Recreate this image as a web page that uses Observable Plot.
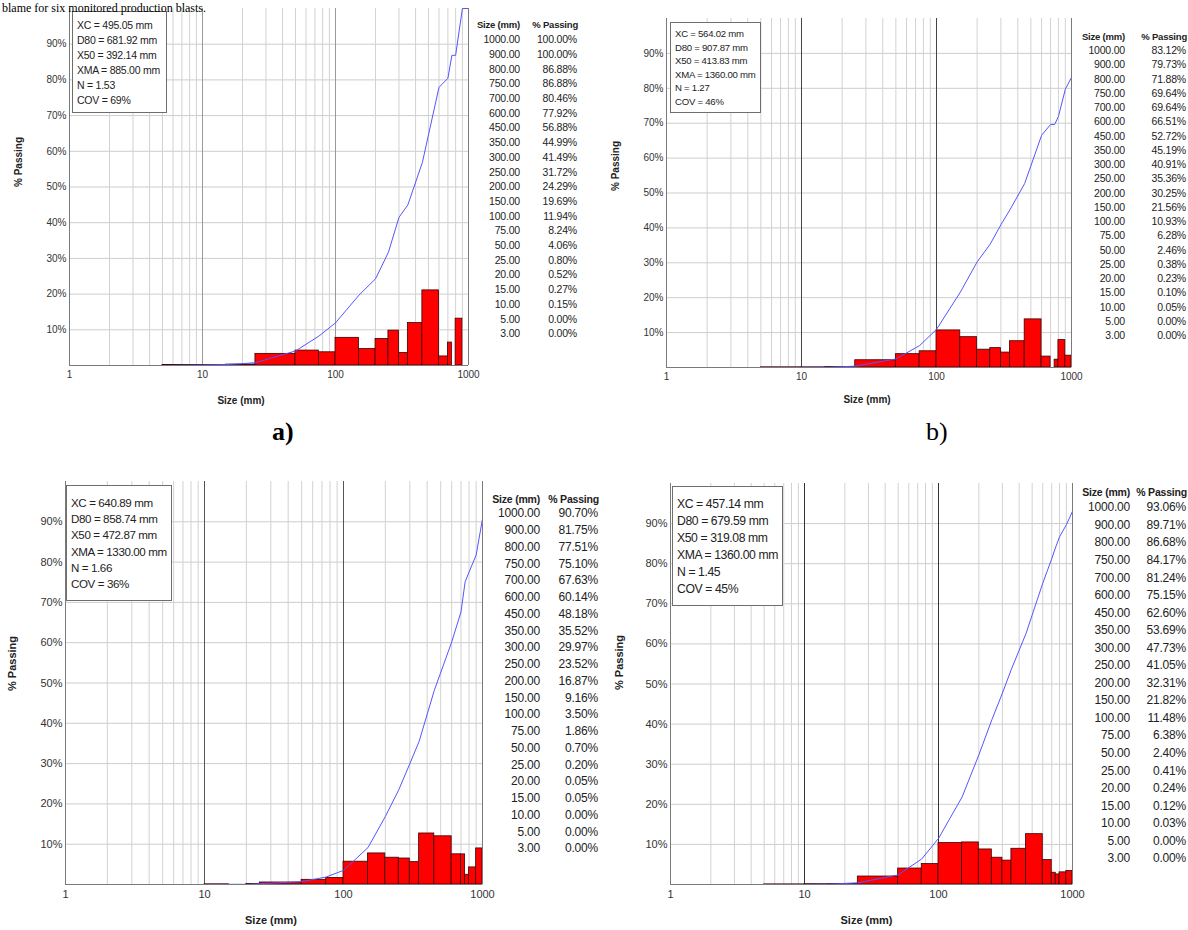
<!DOCTYPE html>
<html><head><meta charset="utf-8">
<script src="https://cdn.jsdelivr.net/npm/d3@7"></script>
<script src="https://cdn.jsdelivr.net/npm/@observablehq/plot@0.6"></script>
<style>
body{margin:0;background:#fff;}
#root{position:relative;width:1188px;height:930px;overflow:hidden;font-family:"Liberation Sans",Arial,sans-serif;color:#222;}
.abs{position:absolute;white-space:nowrap;}
.box{position:absolute;background:#fff;border:1px solid #6e6e6e;box-sizing:border-box;}
.box div{white-space:nowrap;}
.serif{font-family:"Liberation Serif","Times New Roman",serif;color:#000;}
</style></head>
<body><div id="root"></div>
<script>
// ---- data ----
const sizes = [1000, 900, 800, 750, 700, 600, 450, 350, 300, 250, 200, 150, 100, 75, 50, 25, 20, 15, 10, 5, 3];
const passingA = [100.00, 100.00, 86.88, 86.88, 80.46, 77.92, 56.88, 44.99, 41.49, 31.72, 24.29, 19.69, 11.94, 8.24, 4.06, 0.80, 0.52, 0.27, 0.15, 0.00, 0.00];
const passingB = [83.12, 79.73, 71.88, 69.64, 69.64, 66.51, 52.72, 45.19, 40.91, 35.36, 30.25, 21.56, 10.93, 6.28, 2.46, 0.38, 0.23, 0.10, 0.05, 0.00, 0.00];
const passingC = [90.70, 81.75, 77.51, 75.10, 67.63, 60.14, 48.18, 35.52, 29.97, 23.52, 16.87, 9.16, 3.50, 1.86, 0.70, 0.20, 0.05, 0.05, 0.00, 0.00, 0.00];
const passingD = [93.06, 89.71, 86.68, 84.17, 81.24, 75.15, 62.60, 53.69, 47.73, 41.05, 32.31, 21.82, 11.48, 6.38, 2.40, 0.41, 0.24, 0.12, 0.03, 0.00, 0.00];
const statsA = ["XC = 495.05 mm", "D80 = 681.92 mm", "X50 = 392.14 mm", "XMA = 885.00 mm", "N = 1.53", "COV = 69%"];
const statsB = ["XC = 564.02 mm", "D80 = 907.87 mm", "X50 = 413.83 mm", "XMA = 1360.00 mm", "N = 1.27", "COV = 46%"];
const statsC = ["XC = 640.89 mm", "D80 = 858.74 mm", "X50 = 472.87 mm", "XMA = 1330.00 mm", "N = 1.66", "COV = 36%"];
const statsD = ["XC = 457.14 mm", "D80 = 679.59 mm", "X50 = 319.08 mm", "XMA = 1360.00 mm", "N = 1.45", "COV = 45%"];
const xTicks = [1, 10, 100, 1000];
const yTicks = [10, 20, 30, 40, 50, 60, 70, 80, 90];
const minorGrid = [2, 3, 4, 5, 6, 7, 8, 9, 20, 30, 40, 50, 60, 70, 80, 90, 200, 300, 400, 500, 600, 700, 800, 900];
const majorGrid = [10, 100];
const tableHeader = ["Size (mm)", "% Passing"];
const xLabel = "Size (mm)";
const yLabel = "% Passing";
const panelLabels = ["a)", "b)"];
const topText = "blame for six monitored production blasts.";

const root = document.getElementById("root");

function place(el, css) { Object.assign(el.style, css); root.appendChild(el); return el; }

function panel(cfg) {
  const pts = sizes.map((s, i) => ({size: s, pass: cfg.passing[i]})).reverse();
  const bars = d3.pairs(pts).map(([a, b]) => ({x1: a.size, x2: b.size, v: b.pass - a.pass})).filter(d => d.v > 0.001);
  const svg = Plot.plot({
    width: cfg.w, height: cfg.h,
    marginLeft: cfg.ml, marginRight: cfg.mr, marginTop: cfg.mt, marginBottom: cfg.mb,
    style: {fontSize: cfg.fs + "px", fontFamily: "'Liberation Sans', Arial, sans-serif", color: "#333", background: "transparent", overflow: "visible"},
    x: {type: "log", domain: [1, 1000], ticks: xTicks, tickFormat: d => String(d), tickSize: 0, tickPadding: cfg.xpad, label: null},
    y: {domain: [0, 100], ticks: yTicks, tickFormat: d => d + "%", tickSize: 0, tickPadding: 3, label: null},
    marks: [
      Plot.ruleY(yTicks, {stroke: "#cdcdcd", strokeWidth: 1}),
      Plot.ruleX(minorGrid, {stroke: "#d2d2d2", strokeWidth: 1}),
      Plot.ruleX(majorGrid, {stroke: cfg.major, strokeWidth: 1}),
      Plot.rectY(bars, {x1: "x1", x2: "x2", y1: 0, y2: "v", fill: "#ff0000", stroke: "#3a0000", strokeWidth: 0.8}),
      Plot.line(pts, {x: "size", y: "pass", stroke: "#5555ff", strokeWidth: 1, clip: true}),
      Plot.ruleX([1, 1000], {stroke: "#7a7a7a", strokeWidth: 1}),
      Plot.ruleY([0], {stroke: "#7a7a7a", strokeWidth: 1}),
      Plot.text([xLabel], {frameAnchor: "bottom", dx: cfg.xlDx, dy: cfg.xlDy, fontWeight: "bold", fontSize: cfg.fs, fill: "#222"}),
      Plot.text([yLabel], {frameAnchor: "left", rotate: -90, dx: cfg.ylDx, dy: cfg.ylDy, fontWeight: "bold", fontSize: cfg.fs, fill: "#222"})
    ]
  });
  place(svg, {position: "absolute", left: cfg.left + "px", top: cfg.top + "px"});

  // stats box
  const box = document.createElement("div");
  box.className = "box";
  cfg.stats.forEach(t => { const d = document.createElement("div"); d.textContent = t; box.appendChild(d); });
  place(box, {left: cfg.box[0] + "px", top: cfg.box[1] + "px", width: cfg.box[2] + "px", height: cfg.box[3] + "px",
    fontSize: cfg.sfs + "px", lineHeight: cfg.slh + "px", padding: cfg.spad, letterSpacing: cfg.sls});

  // table
  const t = cfg.table;
  function cell(txt, right, y, bold, fs) {
    const s = document.createElement("div");
    s.className = "abs"; s.textContent = txt;
    place(s, {left: (right - 80) + "px", width: "80px", textAlign: "right", top: (y - fs * 0.6) + "px",
      fontSize: fs + "px", lineHeight: (fs * 1.2) + "px", fontWeight: bold ? "bold" : "normal", letterSpacing: "-0.2px"});
  }
  cell(tableHeader[0], t.sr, t.hy, true, t.hfs);
  cell(tableHeader[1], t.pr + 1, t.hy, true, t.hfs);
  sizes.forEach((s, i) => {
    const y = t.fy + i * t.rh;
    cell(s.toFixed(2), t.sr, y, false, t.fs);
    cell(cfg.passing[i].toFixed(2) + "%", t.pr, y, false, t.fs);
  });
}

panel({passing: passingA, stats: statsA, left: 0, top: 0, w: 600, h: 420, ml: 69, mr: 132, mt: 8, mb: 55, fs: 10, xpad: 5,
  major: "#9a9a9a", xlDx: -28, xlDy: 38, ylDx: -51, ylDy: 0,
  box: [72, 11, 95, 102], sfs: 10.5, slh: 14.9, spad: "6px 0 0 4px", sls: "-0.25px",
  table: {hy: 25, fy: 39.5, rh: 14.7, sr: 520, pr: 577, fs: 10.5, hfs: 9.5}});
panel({passing: passingB, stats: statsB, left: 600, top: 0, w: 588, h: 420, ml: 66, mr: 117, mt: 18, mb: 53, fs: 10, xpad: 5,
  major: "#444", xlDx: -2, xlDy: 35, ylDx: -51, ylDy: -2,
  box: [670, 22, 91, 91], sfs: 9.6, slh: 13.6, spad: "4px 0 0 4px", sls: "-0.25px",
  table: {hy: 37, fy: 50.5, rh: 14.25, sr: 1125, pr: 1186, fs: 10.5, hfs: 9.5}});
panel({passing: passingC, stats: statsC, left: 0, top: 470, w: 600, h: 460, ml: 65, mr: 118, mt: 11, mb: 46, fs: 11, xpad: 6,
  major: "#555", xlDx: -3, xlDy: 39, ylDx: -53, ylDy: 8,
  box: [66, 485, 106, 116], sfs: 11.6, slh: 16.2, spad: "9px 0 0 4px", sls: "-0.4px",
  table: {hy: 499, fy: 513.5, rh: 16.75, sr: 540, pr: 598, fs: 12, hfs: 10.5}});
panel({passing: passingD, stats: statsD, left: 600, top: 470, w: 588, h: 460, ml: 70, mr: 116, mt: 13, mb: 46, fs: 11, xpad: 6,
  major: "#333", xlDx: -5, xlDy: 39, ylDx: -51, ylDy: 6,
  box: [672, 486, 111, 120], sfs: 12.2, slh: 17.1, spad: "9px 0 0 4px", sls: "-0.4px",
  table: {hy: 492, fy: 507.5, rh: 17.55, sr: 1130, pr: 1186, fs: 12, hfs: 10.5}});

// top caption line and sub-figure labels
const tt = document.createElement("div"); tt.className = "abs serif"; tt.textContent = topText;
place(tt, {left: "2px", top: "1px", fontSize: "12px", lineHeight: "14px"});
const la = document.createElement("div"); la.className = "abs serif"; la.textContent = panelLabels[0];
place(la, {left: "272px", top: "417px", fontSize: "26px", fontWeight: "bold", lineHeight: "30px"});
const lb = document.createElement("div"); lb.className = "abs serif"; lb.textContent = panelLabels[1];
place(lb, {left: "926px", top: "417px", fontSize: "26px", lineHeight: "30px"});
</script>
</body></html>
